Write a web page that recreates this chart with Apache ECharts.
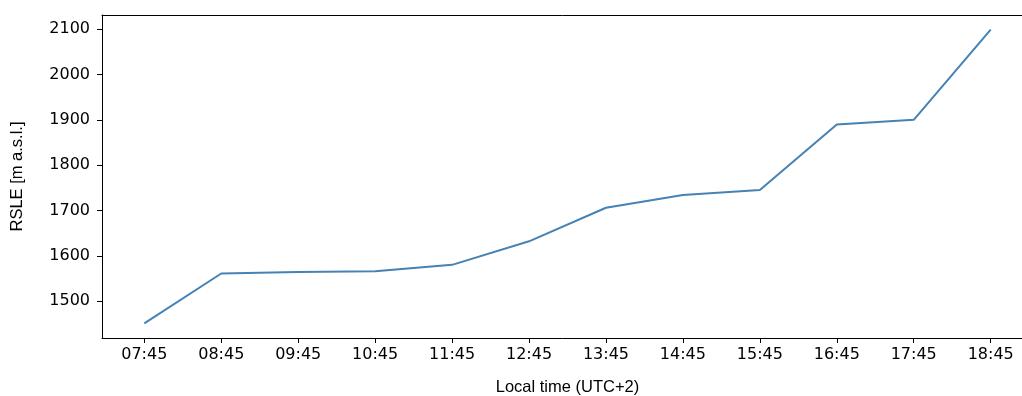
<!DOCTYPE html>
<html>
<head>
<meta charset="utf-8">
<script src="https://cdn.jsdelivr.net/npm/echarts@6/dist/echarts.min.js"></script>
<style>html,body{margin:0;padding:0;background:#fff}#c{width:1022px;height:396px}</style>
</head>
<body>
<div id="c"></div>
<script>
const categories = ["07:45","08:45","09:45","10:45","11:45","12:45","13:45","14:45","15:45","16:45","17:45","18:45"];
const rsle = [1451, 1561, 1564, 1566, 1580, 1632, 1706, 1734, 1745, 1890, 1900, 2099];
const yTicks = [1500, 1600, 1700, 1800, 1900, 2000, 2100];

const xIdx = categories.map((_, i) => i);
const data = rsle.map((v, i) => [i, v]);

const chart = echarts.init(document.getElementById('c'), null, {renderer: 'canvas'});
const axisLineStyle = {color: '#000', width: 1};
chart.setOption({
  animation: false,
  backgroundColor: '#fff',
  grid: {left: 102, top: 15, width: 931, height: 323, containLabel: false, outerBoundsMode: 'none'},
  xAxis: [{
    type: 'value', min: -0.55, max: 11.55, position: 'bottom',
    name: 'Local time (UTC+2)', nameLocation: 'middle', nameGap: 41,
    nameTextStyle: {fontFamily: 'Liberation Sans', fontSize: 16.5, color: '#000'},
    axisLine: {show: true, onZero: false, lineStyle: axisLineStyle},
    axisTick: {show: true, length: 5, lineStyle: axisLineStyle, customValues: xIdx},
    axisLabel: {customValues: xIdx, formatter: v => categories[Math.round(v)] || '', fontFamily: 'DejaVu Sans', fontSize: 16, color: '#000', margin: 9},
    splitLine: {show: false}
  }, {
    type: 'value', min: -0.55, max: 11.55, position: 'top',
    axisLine: {show: true, onZero: false, lineStyle: axisLineStyle},
    axisTick: {show: false}, axisLabel: {show: false}, splitLine: {show: false}
  }],
  yAxis: [{
    type: 'value', min: 1418.6, max: 2131.4, position: 'left',
    name: 'RSLE [m a.s.l.]', nameLocation: 'middle', nameGap: 76, nameRotate: 90,
    nameTextStyle: {fontFamily: 'Liberation Sans', fontSize: 16.5, color: '#000'},
    axisLine: {show: true, onZero: false, lineStyle: axisLineStyle},
    axisTick: {show: true, length: 5, lineStyle: axisLineStyle, customValues: yTicks},
    axisLabel: {customValues: yTicks, formatter: v => String(v), fontFamily: 'DejaVu Sans', fontSize: 16, color: '#000', margin: 12},
    splitLine: {show: false}
  }],
  series: [{
    type: 'line', data: data, xAxisIndex: 0, yAxisIndex: 0,
    showSymbol: false, symbol: 'none',
    lineStyle: {color: '#4682b4', width: 2},
    clip: false
  }]
});
</script>
</body>
</html>
